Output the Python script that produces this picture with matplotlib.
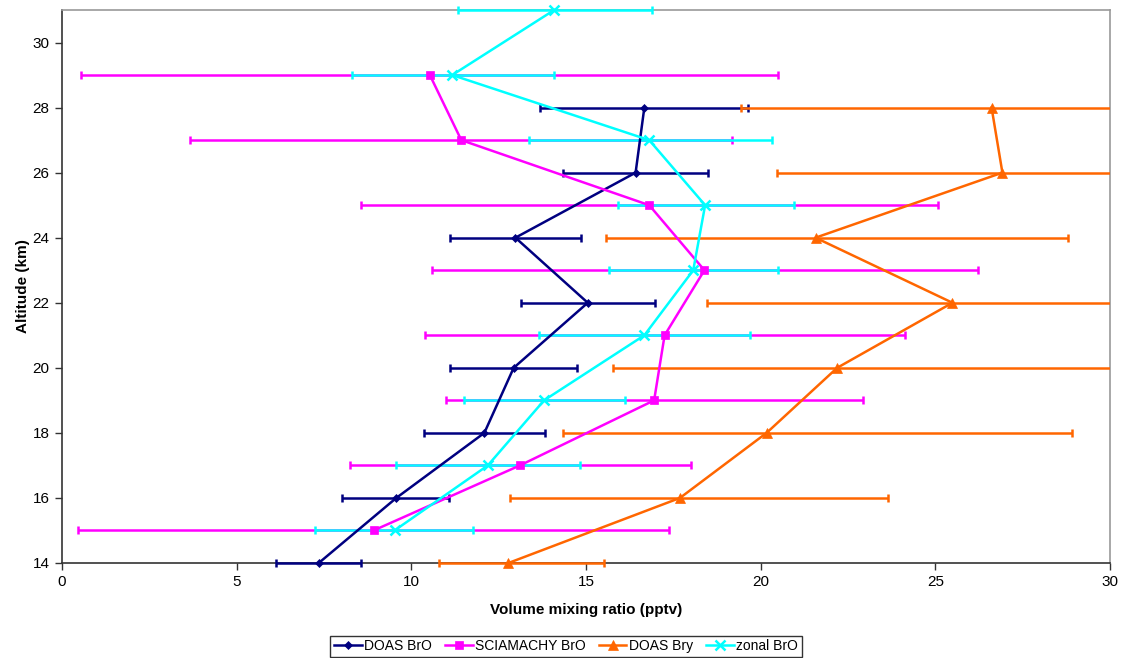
import matplotlib.pyplot as plt
from matplotlib.patches import Rectangle
import numpy as np

plt.rcParams['font.family'] = ['Liberation Sans', 'DejaVu Sans']

# DOAS BrO
doas_alt = [14, 16, 18, 20, 22, 24, 26, 28]
doas_bro = [7.35, 9.57, 12.09, 12.93, 15.05, 12.98, 16.42, 16.67]
doas_bro_lo = [6.13, 8.02, 10.36, 11.12, 13.15, 11.11, 14.33, 13.69]
doas_bro_hi = [8.57, 11.09, 13.83, 14.73, 16.97, 14.87, 18.50, 19.64]

# SCIAMACHY BrO
scia_alt = [15, 17, 19, 21, 23, 25, 27, 29]
scia_bro = [8.92, 13.11, 16.95, 17.25, 18.39, 16.81, 11.43, 10.53]
scia_lo = [0.47, 8.24, 10.98, 10.39, 10.58, 8.55, 3.67, 0.55]
scia_hi = [17.39, 18.01, 22.93, 24.13, 26.22, 25.07, 19.19, 20.50]

# DOAS Bry (upper ends past 30 are cut off by the axes)
bry_alt = [14, 16, 18, 20, 22, 24, 26, 28]
bry = [12.78, 17.69, 20.17, 22.19, 25.49, 21.57, 26.92, 26.61]
bry_lo = [10.79, 12.82, 14.33, 15.78, 18.45, 15.57, 20.47, 19.43]
bry_hi = [15.52, 23.65, 28.90, 30.9, 34.5, 28.81, 35.0, 36.0]

# zonal BrO
zonal_alt = [15, 17, 19, 21, 23, 25, 27, 29, 31]
zonal = [9.52, 12.19, 13.80, 16.67, 18.07, 18.41, 16.81, 11.17, 14.09]
zonal_lo = [7.24, 9.57, 11.50, 13.65, 15.65, 15.93, 13.36, 8.30, 11.33]
zonal_hi = [11.77, 14.82, 16.11, 19.70, 20.49, 20.96, 20.33, 14.07, 16.89]

series = [
    ('DOAS BrO', doas_bro, doas_bro_lo, doas_bro_hi, doas_alt, '#000080', 'D', 4.5),
    ('SCIAMACHY BrO', scia_bro, scia_lo, scia_hi, scia_alt, '#FF00FF', 's', 6),
    ('DOAS Bry', bry, bry_lo, bry_hi, bry_alt, '#FF6600', '^', 6.5),
    ('zonal BrO', zonal, zonal_lo, zonal_hi, zonal_alt, '#00FFFF', 'x', 7),
]

fig = plt.figure(figsize=(11.22, 6.58), dpi=100)
ax = fig.add_axes([62 / 1122, 95 / 658, 1048 / 1122, 553 / 658])

# clip only left/right, let the top and bottom rows sit on the border
clip = Rectangle((0, -0.05), 1, 1.1, transform=ax.transAxes, fill=False, visible=False)
ax.add_patch(clip)

handles = []
for i, (name, x, lo, hi, alt, col, mk, ms) in enumerate(series):
    x = np.array(x)
    err = [x - np.array(lo), np.array(hi) - x]
    eb = ax.errorbar(x, alt, xerr=err, fmt='none', ecolor=col, elinewidth=1.8,
                     capsize=3, capthick=1.8, zorder=2.6 + i * 0.1)
    for art in list(eb.lines[1]) + list(eb.lines[2]):
        art.set_clip_path(clip)
    ln, = ax.plot(x, alt, color=col, lw=1.8, marker=mk, ms=ms,
                  mew=1.8 if mk == 'x' else 0.5, mec=col, mfc=col,
                  label=name, zorder=3 + i * 0.1)
    ln.set_clip_path(clip)
    handles.append(ln)

ax.set_xlim(0, 30)
ax.set_ylim(14, 31)
ax.set_xticks(np.arange(0, 31, 5))
ax.set_yticks(np.arange(14, 31, 2))

ax.spines['top'].set_color('#999999')
ax.spines['right'].set_color('#999999')
ax.spines['left'].set_color('#333333')
ax.spines['bottom'].set_color('#333333')
for s in ax.spines.values():
    s.set_linewidth(1.2)
ax.tick_params(axis='both', direction='out', length=5, width=1, labelsize=11,
               color='#333333', pad=4)

ax.set_xlabel('Volume mixing ratio (pptv)', fontsize=11, fontweight='bold', labelpad=10)
ax.set_ylabel('Altitude (km)', fontsize=11, fontweight='bold', labelpad=2)

leg = fig.legend(handles=handles, loc='lower center', bbox_to_anchor=(0.5045, 0.0),
                 ncol=4, fontsize=10, frameon=True, fancybox=False, handlelength=2.0,
                 handletextpad=0.2, columnspacing=0.9, borderpad=0.25,
                 borderaxespad=0.1)
leg.get_frame().set_edgecolor('black')
leg.get_frame().set_linewidth(1)

fig.savefig('out.png', dpi=100)
